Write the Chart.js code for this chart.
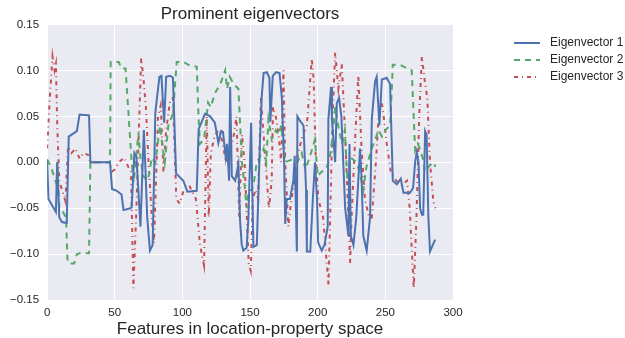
<!DOCTYPE html>
<html>
<head>
<meta charset="utf-8">
<script src="https://cdn.jsdelivr.net/npm/chart.js@4.4.1/dist/chart.umd.min.js"></script>
<style>
html,body{margin:0;padding:0;background:#fff;}
#wrap{width:625px;height:338px;}
</style>
</head>
<body>
<div id="wrap"><canvas id="c" width="625" height="338"></canvas></div>
<script>
const seriesNames = ["Eigenvector 1", "Eigenvector 2", "Eigenvector 3"];
const xTicks = [0, 50, 100, 150, 200, 250, 300];
const yTicks = [-0.15, -0.10, -0.05, 0.00, 0.05, 0.10, 0.15];

// Eigenvector 1 (vertices)
const ev1X = [0,1,6.5,7.5,9,11,14.5,16,22,24,31,32,46.5,48,51.5,55,56.5,61.5,62.5,64.5,66,67.5,69,71.5,72.5,74,76,78,80,83,84.5,86.5,88,91,93,95.3,100.7,103.7,110.6,112,116.8,120.5,124,126.6,128.6,130,132,133,134.5,135.3,136.5,139,141.4,142.6,143.8,145,147.5,148.8,150.8,151.5,152.5,155,157.5,158.7,160,162.4,164.3,165,166.8,169.3,171.8,173.5,175.2,176,177.1,179.5,182,183,184.6,185,187,189.5,191.4,192,194.5,196.4,198,199.5,200.3,203,205,207.4,207.9,209.9,210.5,212.9,214.1,215.8,217.5,220.3,222.7,223.5,224.5,226.4,228.5,231.3,232.5,233.7,236.2,238.7,240,242.4,243.6,245.6,247.4,251,253.5,255.5,258.5,261.4,263.4,268.3,270.5,272,273.2,274.5,275.7,277,278,279.4,280.5,281.8,283,286.8];
const ev1Y = [0.003,-0.040,-0.054,0.000,-0.060,-0.065,-0.066,0.028,0.034,0.052,0.051,0.000,0.000,-0.029,-0.031,-0.035,-0.052,-0.050,-0.049,0.010,0.006,-0.032,-0.070,0.035,0.000,-0.060,-0.096,-0.090,0.054,0.093,0.094,0.043,0.093,0.094,0.092,-0.012,-0.020,-0.032,-0.031,0.036,0.053,0.050,0.043,0.021,0.034,0.033,0.006,0.020,-0.020,0.082,-0.015,-0.020,-0.002,-0.063,-0.089,-0.096,-0.093,-0.060,0.043,-0.020,-0.092,-0.090,0.030,0.073,0.097,0.098,0.092,0.044,0.094,0.098,0.097,0.070,0.000,-0.067,-0.040,-0.040,-0.020,0.007,-0.097,0.050,0.045,0.040,-0.030,-0.097,-0.097,-0.040,0.000,-0.040,-0.087,-0.096,-0.090,-0.070,0.047,0.082,0.047,0.000,0.064,0.070,0.050,-0.050,-0.080,0.020,-0.080,-0.090,-0.060,0.015,-0.020,-0.080,-0.096,-0.060,0.047,0.088,0.093,0.040,0.090,0.092,0.085,-0.020,-0.024,-0.018,-0.033,-0.033,-0.028,0.000,0.011,0.000,-0.050,-0.057,-0.057,0.034,0.030,-0.060,-0.097,-0.084];

// Eigenvector 2
const ev2X = [0,3,5,7,7.5,9,11,14,15,16,20,22,24,31,32,46.5,47,53,55,58,62.5,64,67.5,69,71,74.5,77.4,80,83.5,85,87,89.6,93,95.8,101,104.4,110.6,112,113,116,119,121,124,128,131.6,133,135,138,141.4,142.6,144,146.3,147.5,149,151.3,153,155,157,160,162,163.6,166,169,171,173,176,181,185,188.2,191,195,198,200,203,206,208,209.5,211.6,212.9,215.5,218,220,222,224.5,228.5,231,233.7,236,240,242,245,247.5,250,253.5,255,255.5,261,265,269.5,270.5,272,274,276,278.5,279,282,285.5,287];
const ev2Y = [0.003,-0.005,-0.015,-0.024,0.000,-0.048,-0.052,-0.060,-0.105,-0.110,-0.110,-0.100,-0.099,-0.099,0.000,0.000,0.109,0.109,0.102,0.102,0.000,-0.022,0.032,0.005,-0.015,-0.020,0.005,0.000,0.040,0.020,0.000,0.040,0.053,0.109,0.109,0.106,0.104,0.047,0.020,0.025,0.065,0.060,0.075,0.085,0.100,0.080,0.093,0.085,0.080,0.043,0.000,-0.030,-0.050,-0.030,-0.030,-0.020,0.000,0.005,0.015,0.000,0.047,0.025,0.035,0.030,0.040,0.000,0.003,0.000,0.010,-0.008,0.010,0.025,-0.015,-0.010,-0.008,0.000,0.010,0.037,0.060,0.037,0.020,0.035,-0.020,0.005,0.000,-0.010,-0.030,-0.005,0.015,0.023,0.035,0.028,0.035,0.040,0.088,0.106,0.106,0.103,0.100,0.065,0.013,0.020,0.013,0.000,-0.010,-0.005,0.000,-0.005];

// Eigenvector 3
const ev3X = [0,2,4,5.5,6.5,7.5,9,11,13.5,15.5,18,21,24,27,30.5,32,46,48,50,53,57,60,62,63.8,66,69.5,71,73,75,77.4,79,82,84,86,88,91,93,95.5,98,101,105,110,113,116,118,119.5,121,124,127,130,132,135,138,140,142,144,146,149,150.5,152,154,156,158,160,162,164,166,167,169,171,173,174.7,176,178.3,180.6,183,185.5,189,192,195.6,197,198.5,200.5,204,208,209.5,211,212.9,215.3,217.8,220.3,222.7,224,225,227.5,230,232.4,234.9,238,240,243,245,247,248,251,254,258,262,266,268,271,273,275,277,279,281,283,285.5,287];
const ev3Y = [0.015,0.070,0.115,0.100,0.107,0.040,-0.020,-0.030,-0.042,0.017,0.010,0.015,0.004,0.010,0.008,0.000,0.000,-0.010,-0.008,0.000,0.005,-0.005,-0.010,-0.137,-0.050,0.113,0.095,0.060,0.000,-0.060,-0.088,0.050,0.062,-0.010,0.035,0.068,0.070,-0.040,-0.045,-0.030,-0.025,-0.040,-0.090,-0.112,0.050,-0.060,0.010,0.030,0.035,0.020,0.000,0.010,0.030,0.050,-0.060,0.030,0.000,-0.110,-0.118,-0.040,-0.030,-0.040,0.070,0.030,-0.010,-0.050,-0.020,0.060,0.050,0.030,0.000,0.100,0.000,-0.070,-0.040,-0.020,0.010,0.030,0.040,0.113,0.090,0.008,-0.040,-0.060,-0.134,-0.040,0.050,0.119,0.080,0.107,0.030,-0.060,-0.110,-0.060,0.020,0.095,0.015,-0.040,-0.060,-0.060,0.000,0.050,0.065,0.060,0.020,-0.010,-0.020,-0.025,-0.020,-0.050,-0.137,-0.060,0.050,0.115,0.090,0.070,0.000,-0.043,-0.050];

const colors = ["#4C72B0", "#55A868", "#C44E52"];
const dashes = [[], [6, 5], [4, 4, 1, 4]];
const FONT = "'Liberation Sans', Arial, sans-serif";
const TXT = "#262626";

function pts(xs, ys) { return xs.map((x, i) => ({ x: x, y: ys[i] })); }

const bgPlugin = {
  id: 'bg',
  beforeDraw(chart) {
    const a = chart.chartArea, ctx = chart.ctx;
    ctx.save();
    ctx.fillStyle = "#EAEAF2";
    ctx.fillRect(a.left, a.top, a.right - a.left, a.bottom - a.top);
    ctx.restore();
  },
  afterDraw(chart) {
    const ctx = chart.ctx;
    ctx.save();
    const rows = [43, 60, 77];
    seriesNames.forEach((name, i) => {
      ctx.strokeStyle = colors[i];
      ctx.lineWidth = 2;
      ctx.setLineDash(dashes[i]);
      ctx.beginPath();
      ctx.moveTo(514, rows[i]);
      ctx.lineTo(540, rows[i]);
      ctx.stroke();
      ctx.setLineDash([]);
      ctx.fillStyle = TXT;
      ctx.font = "12px " + FONT;
      ctx.textBaseline = "middle";
      ctx.textAlign = "left";
      ctx.fillText(name, 550, rows[i]);
    });
    ctx.restore();
  }
};

new Chart(document.getElementById('c'), {
  type: 'line',
  data: {
    datasets: seriesNames.map((n, i) => ({
      label: n,
      data: pts([ev1X, ev2X, ev3X][i], [ev1Y, ev2Y, ev3Y][i]),
      borderColor: colors[i],
      borderWidth: 2,
      borderDash: dashes[i],
      pointRadius: 0,
      fill: false,
      tension: 0
    }))
  },
  options: {
    responsive: false,
    animation: false,
    devicePixelRatio: 1,
    layout: { padding: { left: 2, right: 172, top: 0, bottom: 0 } },
    plugins: {
      legend: { display: false },
      tooltip: { enabled: false },
      title: {
        display: true,
        text: "Prominent eigenvectors",
        fullSize: false,
        color: TXT,
        font: { family: FONT, size: 17, weight: 'normal' },
        padding: { top: 4, bottom: 0 }
      }
    },
    scales: {
      x: {
        type: 'linear',
        min: 0, max: 300,
        afterBuildTicks: (s) => { s.ticks = xTicks.map(v => ({ value: v })); },
        grid: { color: "#ffffff", lineWidth: 1, drawTicks: false },
        border: { display: false },
        ticks: { color: TXT, font: { family: FONT, size: 11.5 }, padding: 6, callback: v => String(v) },
        title: { display: true, text: "Features in location-property space", color: TXT, font: { family: FONT, size: 17, lineHeight: 1 }, padding: { top: -5, bottom: 0 } }
      },
      y: {
        type: 'linear',
        min: -0.15, max: 0.15,
        afterBuildTicks: (s) => { s.ticks = yTicks.map(v => ({ value: v })); },
        grid: { color: "#ffffff", lineWidth: 1, drawTicks: false },
        border: { display: false },
        ticks: { color: TXT, font: { family: FONT, size: 11.5 }, padding: 8,
          callback: v => (v < 0 ? "\u2212" : "") + Math.abs(v).toFixed(2) }
      }
    }
  },
  plugins: [bgPlugin]
});
</script>
</body>
</html>
